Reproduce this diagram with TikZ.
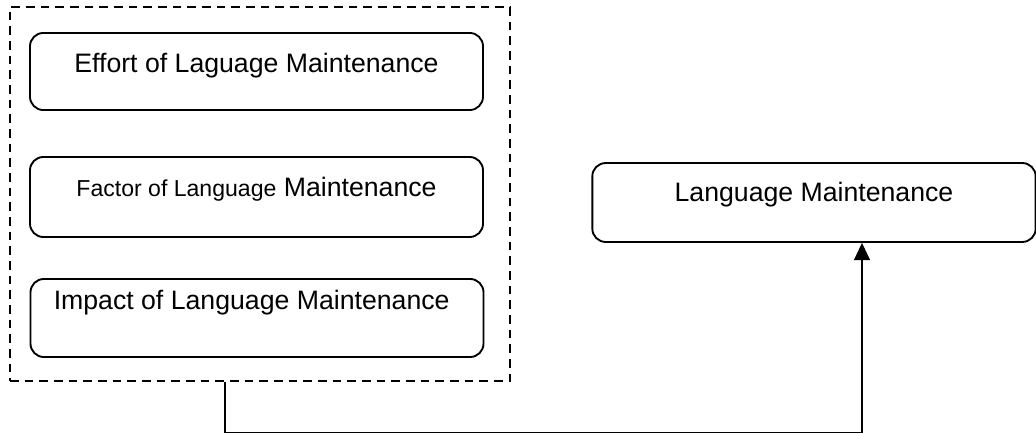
\documentclass[tikz,border=0pt]{standalone}
\usepackage{fontspec}
\setmainfont{Liberation Sans}
\usetikzlibrary{arrows.meta}
\tikzset{
  stage/.style={draw, line width=1.4pt, rounded corners=10pt, inner sep=0pt,
    minimum width=339.75pt, text height=29.8pt, text depth=28pt,
    font=\fontsize{20}{24}\selectfont},
  frame/.style={draw, line width=1pt, dash pattern=on 6.5pt off 4.5pt, inner sep=0pt},
  link/.style={line width=1.3pt, -{Triangle[length=13pt,width=12pt]}}
}
\begin{document}
\begin{tikzpicture}[x=0.75pt, y=-0.75pt]
    \useasboundingbox (0,0) rectangle (1036,434);

    % Dashed group round the three boxes
    \node (group) at (260,194) [frame, minimum width=375pt, minimum height=280.5pt] {};

    % Boxes inside the group
    \node (effort) at (256.5,71.5) [stage] {Effort of Laguage Maintenance};
    \node (factor) at (256.5,197) [stage, text depth=30.2pt]
        {{\fontsize{17.3}{20}\selectfont Factor of Language} Maintenance};
    \node (impact) at (257,318) [stage, text height=23.25pt, text depth=35.25pt]
        {\hspace*{-8pt}Impact of Language Maintenance};

    % Target box
    \node (maint) at (814,202.5) [stage, minimum width=332.5pt, text height=29pt, text depth=30.2pt]
        {Language Maintenance};

    % Connector
    \coordinate (bendl) at (225,432.5);
    \coordinate (bendr) at (862,432.5);
    \draw[link] (bendl |- group.south) -- (bendl) -- (bendr) -- (bendr |- maint.south);
\end{tikzpicture}
\end{document}
